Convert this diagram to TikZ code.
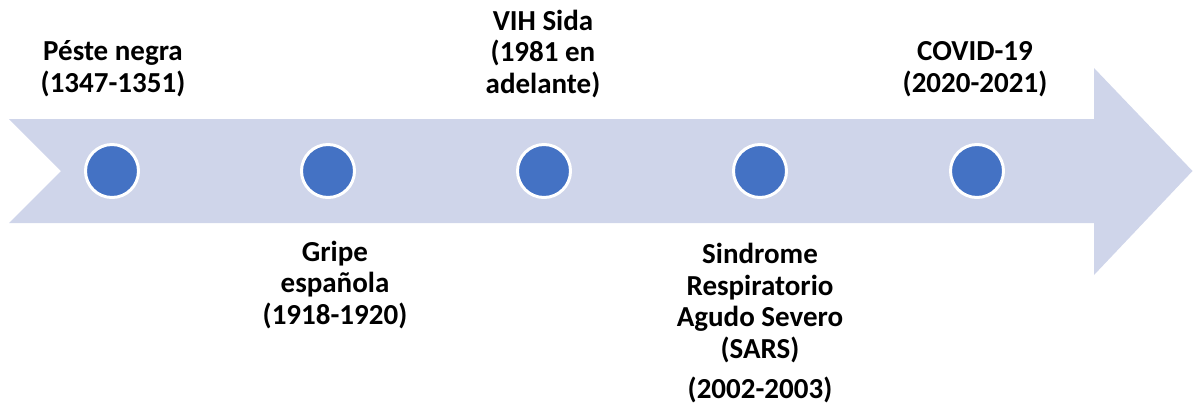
\documentclass[tikz,border=0pt]{standalone}
\usepackage{fontspec}
\setmainfont{Carlito}
\definecolor{arrowfill}{HTML}{CFD5EA}
\definecolor{dotblue}{HTML}{4472C4}
\begin{document}
\begin{tikzpicture}[x=1pt,y=-1pt,
  dot/.style={circle,fill=dotblue,draw=white,line width=3pt,minimum size=53pt,inner sep=0pt},
  lbl/.style={align=center,anchor=base,inner sep=0pt,font=\fontsize{29}{31.5}\selectfont\bfseries}]
\useasboundingbox (0,0) rectangle (1193,416);
\fill[arrowfill] (9,119) -- (1094,119) -- (1094,68) -- (1192.5,171) -- (1094,275) -- (1094,223) -- (9,223) -- (61,171) -- cycle;
\node[dot] (d1) at (112,171) {};
\node[dot] (d2) at (328,171) {};
\node[dot] (d3) at (544,171) {};
\node[dot] (d4) at (760,171) {};
\node[dot] (d5) at (977,171) {};
\node[lbl] (t1) at (113,92) {Péste negra\\(1347-1351)};
\node[lbl] (t2) at (335,324) {Gripe\\española\\(1918-1920)};
\node[lbl] (t3) at (543,93) {VIH Sida\\(1981 en\\adelante)};
\node[lbl] (t4) at (760,358) {Sindrome\\Respiratorio\\Agudo Severo\\(SARS)};
\node[lbl] (t4b) at (760,398) {(2002-2003)};
\node[lbl] (t5) at (975,92) {COVID-19\\(2020-2021)};
\end{tikzpicture}
\end{document}
